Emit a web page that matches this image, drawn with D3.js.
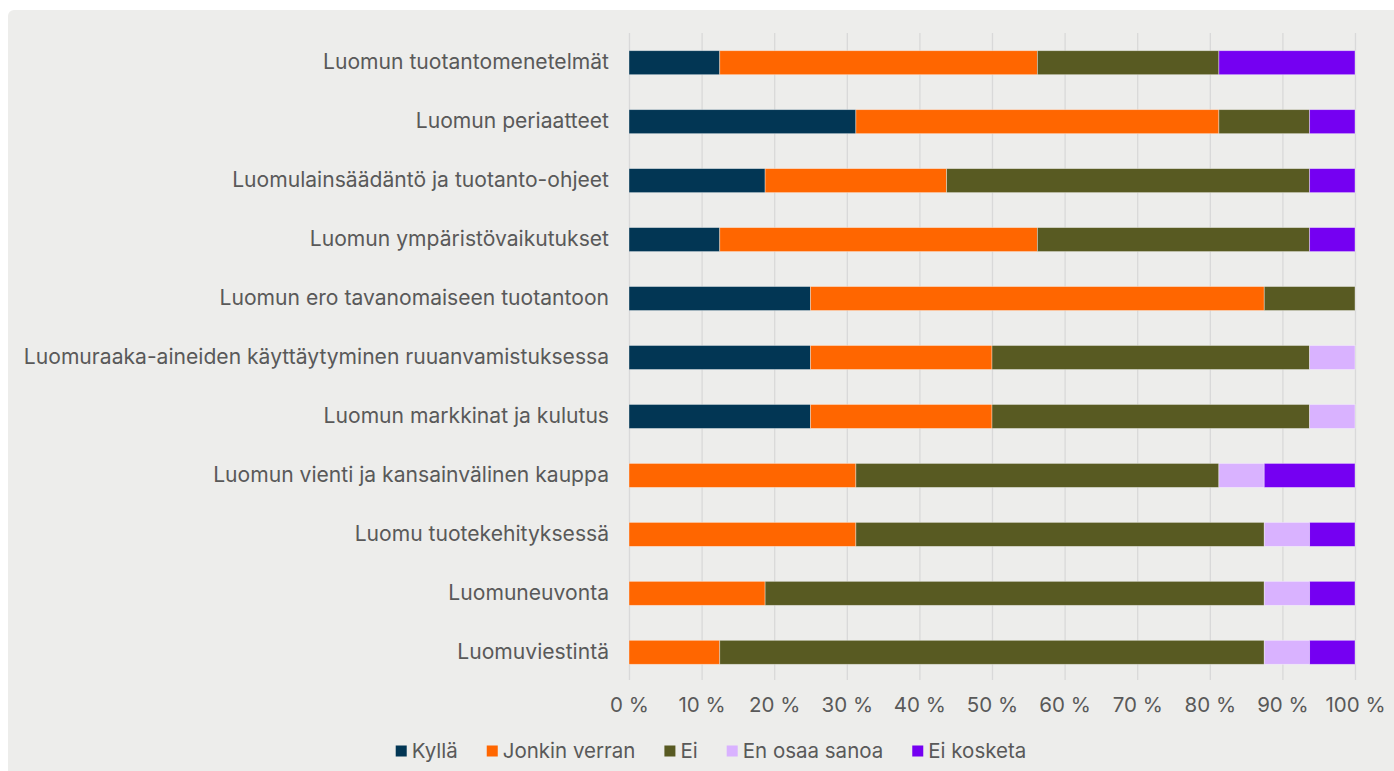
<!DOCTYPE html>
<html>
<head>
  <meta charset="utf-8">
  <title>Luomu - osaaminen</title>
  <script src="https://cdnjs.cloudflare.com/ajax/libs/d3/7.8.5/d3.min.js"></script>
  <style>
    body { margin: 0; background: #fff; }
    svg { display: block; }
    text { font-family: Inter, "Noto Sans", sans-serif; fill: #595959; }
  </style>
</head>
<body>
<div id="chart"></div>
<script>
  // data (percent of answers)
  var categories = [
    "Luomun tuotantomenetelmät",
    "Luomun periaatteet",
    "Luomulainsäädäntö ja tuotanto-ohjeet",
    "Luomun ympäristövaikutukset",
    "Luomun ero tavanomaiseen tuotantoon",
    "Luomuraaka-aineiden käyttäytyminen ruuanvamistuksessa",
    "Luomun markkinat ja kulutus",
    "Luomun vienti ja kansainvälinen kauppa",
    "Luomu tuotekehityksessä",
    "Luomuneuvonta",
    "Luomuviestintä"
  ];
  var seriesNames = ["Kyllä", "Jonkin verran", "Ei", "En osaa sanoa", "Ei kosketa"];
  var kylla      = [12.5, 31.25, 18.75, 12.5, 25, 25, 25, 0, 0, 0, 0];
  var jonkin     = [43.75, 50, 25, 43.75, 62.5, 25, 25, 31.25, 31.25, 18.75, 12.5];
  var ei         = [25, 12.5, 50, 37.5, 12.5, 43.75, 43.75, 50, 56.25, 68.75, 75];
  var enOsaa     = [0, 0, 0, 0, 0, 6.25, 6.25, 6.25, 6.25, 6.25, 6.25];
  var eiKosketa  = [18.75, 6.25, 6.25, 6.25, 0, 0, 0, 12.5, 6.25, 6.25, 6.25];
  var xTicks = [0, 10, 20, 30, 40, 50, 60, 70, 80, 90, 100];
  var colors = ["#023654", "#ff6600", "#585a22", "#d9b2ff", "#7500f2"];

  var W = 1394, H = 771;
  var svg = d3.select("#chart").append("svg").attr("width", W).attr("height", H);

  // panel background
  svg.append("rect")
    .attr("x", 8).attr("y", 10).attr("width", W + 20).attr("height", H + 20)
    .attr("rx", 6)
    .attr("fill", "#ededeb");

  var x = d3.scaleLinear().domain([0, 100]).range([629, 1355]);
  var y = d3.scaleBand().domain(categories).range([33, 682]).paddingInner(0.593).paddingOuter(0.3);

  // gridlines
  var grid = svg.append("g").attr("transform", "translate(0,680)")
    .call(d3.axisBottom(x).tickValues(xTicks).tickSize(-647).tickFormat(""));
  grid.select(".domain").remove();
  grid.selectAll("line").attr("stroke", "#d9d9d9").attr("stroke-width", 1.3);

  // x tick labels
  var xa = svg.append("g").attr("transform", "translate(0,694)")
    .call(d3.axisBottom(x).tickValues(xTicks).tickSize(0).tickFormat(d => d + " %"));
  xa.select(".domain").remove();
  xa.selectAll("text").attr("font-size", 20.5).attr("fill", "#595959");

  // category labels
  var ya = svg.append("g").attr("transform", "translate(609,0)")
    .call(d3.axisLeft(y).tickSize(0).tickPadding(0));
  ya.select(".domain").remove();
  ya.selectAll("text").attr("font-size", 21.1).attr("fill", "#595959");

  // stacked bars
  var rows = categories.map((c, i) => ({
    cat: c, "Kyllä": kylla[i], "Jonkin verran": jonkin[i], "Ei": ei[i],
    "En osaa sanoa": enOsaa[i], "Ei kosketa": eiKosketa[i]
  }));
  var stack = d3.stack().keys(seriesNames)(rows);

  svg.append("g").selectAll("g")
    .data(stack)
    .join("g")
    .attr("fill", (d, i) => colors[i])
    .selectAll("rect")
    .data(d => d.filter(s => s[1] > s[0]))
    .join("rect")
    .attr("x", d => x(d[0]))
    .attr("y", d => y(d.data.cat))
    .attr("width", d => x(d[1]) - x(d[0]))
    .attr("height", y.bandwidth())
    .attr("stroke", "rgba(255,255,255,0.45)")
    .attr("stroke-width", 0.8);

  // legend
  var legend = svg.append("g").attr("transform", "translate(0,751)");
  var items = legend.selectAll("g").data(seriesNames).join("g");
  items.append("rect")
    .attr("y", -5.5).attr("width", 11).attr("height", 11)
    .attr("fill", (d, i) => colors[i]);
  items.append("text")
    .attr("x", 16).attr("dy", "0.35em")
    .attr("font-size", 20.5)
    .text(d => d);
  var gap = 29, pos = 0, offs = [];
  items.each(function () {
    offs.push(pos);
    var tw = d3.select(this).select("text").node().getComputedTextLength();
    pos += 16 + tw + gap;
  });
  var total = pos - gap;
  var startX = 711 - total / 2;
  items.attr("transform", (d, i) => "translate(" + (startX + offs[i]) + ",0)");
</script>
</body>
</html>
